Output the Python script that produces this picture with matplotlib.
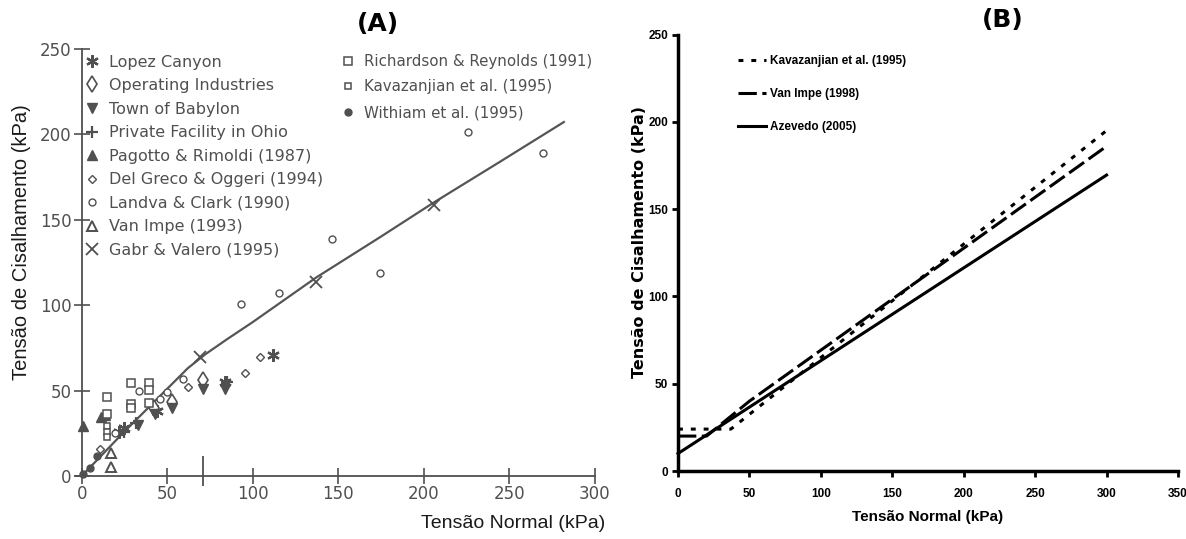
import matplotlib.pyplot as plt
from matplotlib import font_manager

# ---- Panel A data ----
curve_x = [0, 24, 48, 62, 72, 85, 100, 137, 175, 206, 245, 282]
curve_y = [0, 25, 49, 63, 71, 80, 90, 116, 140, 160, 184, 207]

lopez_x = [112, 84, 22, 25, 44]
lopez_y = [71, 55, 26, 28, 38]
operating_x = [71, 53, 42]
operating_y = [56, 43.5, 40]
babylon_x = [84, 71, 53, 43, 33]
babylon_y = [51, 51, 40, 36, 30]
ohio_x = [32, 25, 85]
ohio_y = [31, 26, 55]
pagotto_x = [0.5, 11.5, 13.5]
pagotto_y = [29, 34.5, 35.5]
delgreco_x = [104, 95.5, 62, 10.5]
delgreco_y = [69.5, 60, 52, 16]
landva_x = [226, 270, 146.5, 174.5, 115.5, 93, 59, 33.5, 19.5, 50, 46]
landva_y = [201, 189, 138.5, 119, 107, 100.5, 57, 50, 25, 49, 45]
vanimpe93_x = [17, 17]
vanimpe93_y = [13.5, 5.5]
gabr_x = [69, 137, 206]
gabr_y = [69.5, 113.5, 158.5]
richardson_x = [29, 39.5, 39.5, 15, 29, 29, 39.5, 15]
richardson_y = [54.5, 54.5, 50.5, 46.5, 42, 39.5, 42.5, 36]
kavaz_pts_x = [14.5, 14.5, 14.5]
kavaz_pts_y = [29, 26, 23]
withiam_x = [5, 1, 9]
withiam_y = [4.5, 1, 12]
pointer_x = 71

# ---- Panel B data ----
kav_x = [0, 37, 300]
kav_y = [24, 24, 195]
van_x = [0, 20, 50, 300]
van_y = [20, 20, 40, 186]
aze_x = [0, 300]
aze_y = [10, 169.5]

W, H = 1186, 539
fig = plt.figure(figsize=(W / 100, H / 100), dpi=100)
fig.patch.set_facecolor('white')

names = {f.name for f in font_manager.fontManager.ttflist}
narrow = 'Liberation Sans Narrow' if 'Liberation Sans Narrow' in names else 'Liberation Sans'
gray = '#505050'

# ================= Panel A =================
axa = fig.add_axes([0.0617, 0.0978, 0.4440, 0.8217])
axa.set_xlim(-5, 303)
axa.set_ylim(-6, 253)
for s in ['top', 'right']:
    axa.spines[s].set_visible(False)
axa.spines['left'].set_position(('data', 0))
axa.spines['bottom'].set_position(('data', 0))
axa.spines['left'].set_bounds(0, 250)
axa.spines['bottom'].set_bounds(-4, 300)
for s in ['left', 'bottom']:
    axa.spines[s].set_color(gray)
    axa.spines[s].set_linewidth(1.3)
axa.set_xticks([0, 50, 100, 150, 200, 250, 300])
axa.set_yticks([0, 50, 100, 150, 200, 250])
axa.tick_params(direction='inout', length=11, width=1.2, color=gray,
                labelcolor=gray, labelsize=12)
axa.tick_params(axis='y', pad=2)
axa.tick_params(axis='x', pad=1)
axa.vlines(pointer_x, -6.5, 12, color=gray, lw=1.3)

axa.plot(curve_x, curve_y, color='#555555', lw=1.6)

mk = dict(linestyle='none', color=gray, mec=gray)
h = []
h += axa.plot(lopez_x, lopez_y, marker=(6, 2, 0), ms=9, mew=1.6, label='Lopez Canyon', **mk)
h += axa.plot(operating_x, operating_y, marker='d', ms=8, mfc='white', mew=1.2, label='Operating Industries', **mk)
h += axa.plot(babylon_x, babylon_y, marker='v', ms=7, label='Town of Babylon', **mk)
h += axa.plot(ohio_x, ohio_y, marker='+', ms=9, mew=1.6, label='Private Facility in Ohio', **mk)
h += axa.plot(pagotto_x, pagotto_y, marker='^', ms=7, label='Pagotto & Rimoldi (1987)', **mk)
h += axa.plot(delgreco_x, delgreco_y, marker='D', ms=4, mfc='white', mew=1, label='Del Greco & Oggeri (1994)', **mk)
h += axa.plot(landva_x, landva_y, marker='o', ms=5, mfc='white', mew=1, label='Landva & Clark (1990)', **mk)
h += axa.plot(vanimpe93_x, vanimpe93_y, marker='^', ms=7, mfc='white', mew=1.4, label='Van Impe (1993)', **mk)
h += axa.plot(gabr_x, gabr_y, marker='x', ms=9, mew=1.3, label='Gabr & Valero (1995)', **mk)
h2 = []
h2 += axa.plot(richardson_x, richardson_y, marker='s', ms=6, mfc='white', mew=1.1, label='Richardson & Reynolds (1991)', **mk)
h2 += axa.plot(kavaz_pts_x, kavaz_pts_y, marker='s', ms=5, mfc='white', mew=1.1, label='Kavazanjian et al. (1995)', **mk)
h2 += axa.plot(withiam_x, withiam_y, marker='o', ms=5, label='Withiam et al. (1995)', **mk)

leg1 = axa.legend(handles=h, loc='upper left', bbox_to_anchor=(84 / W, 1 - 54.5 / H),
                  bbox_transform=fig.transFigure, frameon=False, fontsize=11.5,
                  labelcolor=gray, handlelength=1.0, handletextpad=0.56,
                  labelspacing=0.535, borderpad=0, borderaxespad=0, numpoints=1)
axa.add_artist(leg1)
axa.legend(handles=h2, loc='upper left', bbox_to_anchor=(340.5 / W, 1 - 54 / H),
           bbox_transform=fig.transFigure, frameon=False, fontsize=10.8,
           labelcolor=gray, handlelength=1.0, handletextpad=0.54,
           labelspacing=0.70, borderpad=0, borderaxespad=0, numpoints=1)

fig.text(22 / W, 1 - 242 / H, 'Tensão de Cisalhamento (kPa)', rotation=90,
         ha='center', va='center', fontsize=14.5, family='Liberation Sans', color='#1a1a1a')
fig.text(513 / W, 1 - 524 / H, 'Tensão Normal (kPa)', ha='center', va='center',
         fontsize=14, family='Liberation Sans', color='#1a1a1a')
fig.text(378 / W, 1 - 24 / H, '(A)', ha='center', va='center', fontsize=18,
         weight='bold', color='black')

# ================= Panel B =================
axb = fig.add_axes([678 / W, 1 - 471 / H, 500 / W, 436.5 / H])
axb.set_xlim(0, 350)
axb.set_ylim(0, 250)
for s in ['top', 'right']:
    axb.spines[s].set_visible(False)
for s in ['left', 'bottom']:
    axb.spines[s].set_linewidth(2.5)
axb.set_xticks(range(0, 351, 50))
axb.set_yticks(range(0, 251, 50))
axb.tick_params(direction='out', length=4, width=2, labelsize=8.5)
axb.tick_params(axis='x', pad=8)
axb.tick_params(axis='y', pad=3)
for lab in axb.get_xticklabels() + axb.get_yticklabels():
    lab.set_family(narrow)
    lab.set_weight('bold')

axb.plot(kav_x, kav_y, color='black', lw=2.2, dashes=(1.6, 2.6),
         label='Kavazanjian et al. (1995)', clip_on=False)
axb.plot(van_x, van_y, color='black', lw=2.2, dashes=(6, 1.8),
         label='Van Impe (1998)', clip_on=False)
axb.plot(aze_x, aze_y, color='black', lw=2.2, label='Azevedo (2005)', clip_on=False)

axb.legend(loc='upper left', bbox_to_anchor=(738 / W, 1 - 55 / H),
           bbox_transform=fig.transFigure, frameon=False,
           prop={'family': narrow, 'weight': 'bold', 'size': 8.5},
           handlelength=2.4, handletextpad=0.35, labelspacing=1.77,
           borderpad=0, borderaxespad=0)

fig.text(640 / W, 1 - 242 / H, 'Tensão de Cisalhamento (kPa)', rotation=90,
         ha='center', va='center', fontsize=11.5, weight='bold', family='DejaVu Sans')
fig.text(928 / W, 1 - 517 / H, 'Tensão Normal (kPa)', ha='center', va='center',
         fontsize=11, weight='bold', family=narrow)
fig.text(1003 / W, 1 - 20 / H, '(B)', ha='center', va='center', fontsize=18,
         weight='bold', color='black')

fig.savefig('out.png', dpi=100)
